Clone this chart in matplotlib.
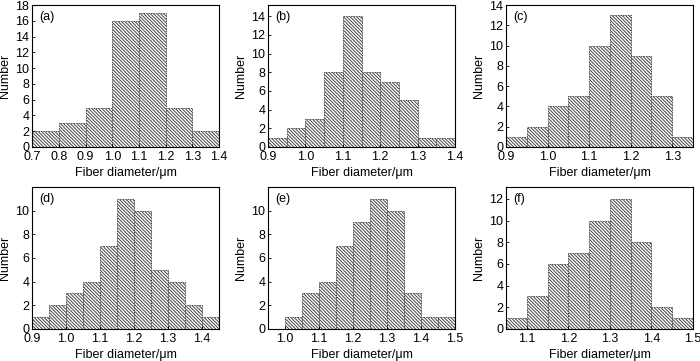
import matplotlib
matplotlib.use("Agg")
import matplotlib.pyplot as plt
import numpy as np

plt.rcParams['font.family'] = ['Liberation Sans', 'DejaVu Sans']
plt.rcParams['font.size'] = 9
plt.rcParams['hatch.linewidth'] = 0.7
plt.rcParams['hatch.color'] = '#222222'

# bin left edges and counts for each panel
bins_a = [0.7, 0.8, 0.9, 1.0, 1.1, 1.2, 1.3]
counts_a = [2, 3, 5, 16, 17, 5, 2]

bins_b = [0.9, 0.95, 1.0, 1.05, 1.1, 1.15, 1.2, 1.25, 1.3, 1.35]
counts_b = [1, 2, 3, 8, 14, 8, 7, 5, 1, 1]

bins_c = [0.9, 0.95, 1.0, 1.05, 1.1, 1.15, 1.2, 1.25, 1.3]
counts_c = [1, 2, 4, 5, 10, 13, 9, 5, 1]

bins_d = [0.9, 0.95, 1.0, 1.05, 1.1, 1.15, 1.2, 1.25, 1.3, 1.35, 1.4]
counts_d = [1, 2, 3, 4, 7, 11, 10, 5, 4, 2, 1]

bins_e = [1.0, 1.05, 1.1, 1.15, 1.2, 1.25, 1.3, 1.35, 1.4, 1.45]
counts_e = [1, 3, 4, 7, 9, 11, 10, 3, 1, 1]

bins_f = [1.05, 1.1, 1.15, 1.2, 1.25, 1.3, 1.35, 1.4, 1.45]
counts_f = [1, 3, 6, 7, 10, 12, 8, 2, 1]

panels = [
    ("(a)", bins_a, counts_a, 0.1, (0.7, 1.4), np.arange(0.7, 1.41, 0.1), (0, 18), np.arange(0, 19, 2)),
    ("(b)", bins_b, counts_b, 0.05, (0.9, 1.4), np.arange(0.9, 1.41, 0.1), (0, 15.2), np.arange(0, 15, 2)),
    ("(c)", bins_c, counts_c, 0.05, (0.9, 1.35), np.arange(0.9, 1.31, 0.1), (0, 14), np.arange(0, 15, 2)),
    ("(d)", bins_d, counts_d, 0.05, (0.9, 1.45), np.arange(0.9, 1.41, 0.1), (0, 12), np.arange(0, 11, 2)),
    ("(e)", bins_e, counts_e, 0.05, (0.95, 1.5), np.arange(1.0, 1.51, 0.1), (0, 12), np.arange(0, 11, 2)),
    ("(f)", bins_f, counts_f, 0.05, (1.05, 1.5), np.arange(1.1, 1.51, 0.1), (0, 13.1), np.arange(0, 13, 2)),
]

lefts = [0.046, 0.383, 0.723]
bottoms = [0.593, 0.089]
w = 0.267
h = 0.393

fig = plt.figure(figsize=(7, 3.61), dpi=100)
for i, (lab, bins, counts, bw, xl, xt, yl, yt) in enumerate(panels):
    ax = fig.add_axes([lefts[i % 3], bottoms[i // 3], w, h])
    ax.bar(bins, counts, width=bw, align='edge', color='white',
           edgecolor='#444444', linewidth=0.6, linestyle=(0, (2, 1)),
           hatch='\\' * 10)
    ax.set_xlim(*xl)
    ax.set_ylim(*yl)
    ax.set_xticks(xt)
    ax.set_xticklabels(['%.1f' % v for v in xt])
    ax.set_yticks(yt)
    ax.tick_params(direction='in', length=2, width=0.6, labelsize=9)
    ax.tick_params(axis='x', pad=3)
    ax.tick_params(axis='y', pad=2)
    for s in ax.spines.values():
        s.set_linewidth(0.8)
    ax.set_xlabel('Fiber diameter/μm', fontsize=9, labelpad=3)
    ax.set_ylabel('Number', fontsize=9, labelpad=3)
    ax.text(0.04, 0.96, lab, transform=ax.transAxes, ha='left', va='top', fontsize=9)

fig.savefig('out.png', dpi=100)
